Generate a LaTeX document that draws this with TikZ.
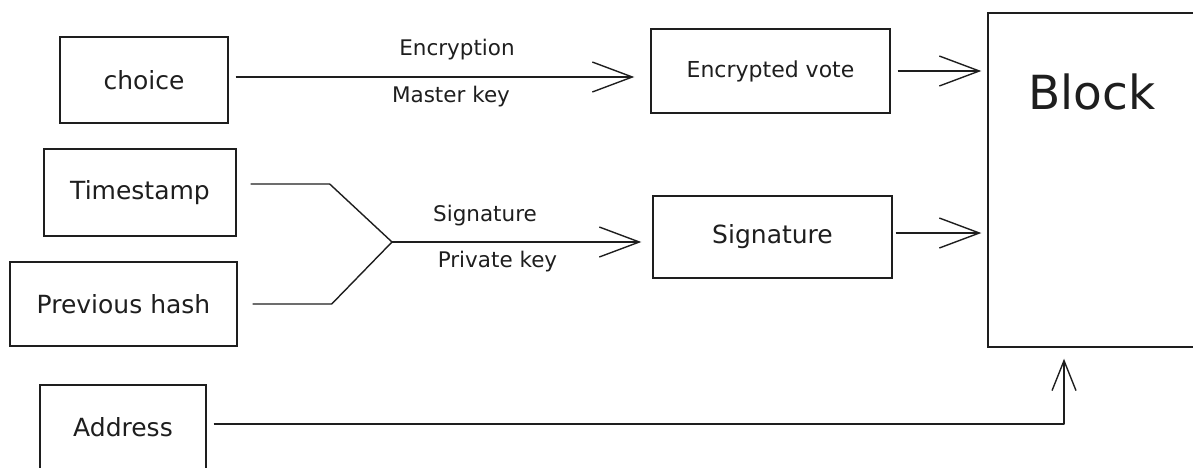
\documentclass[tikz,border=0pt]{standalone}
\usepackage{fontspec}
\setmainfont{DejaVu Sans}
\usetikzlibrary{arrows.meta,calc}
\definecolor{ink}{HTML}{1E1E1E}
\begin{document}
\begin{tikzpicture}[x=1pt,y=-1pt,
  box/.style={draw=ink, line width=1.4pt, rectangle, inner sep=0pt, text=ink, font=\fontsize{25}{30}\selectfont},
  lbl/.style={text=ink, inner sep=0pt, font=\fontsize{21.5}{26}\selectfont},
  conn/.style={draw=ink, line width=1.4pt, line join=round},
  arr/.style={conn, -{Straight Barb[length=40pt,width=30pt]}},
  arrsmall/.style={conn, -{Straight Barb[length=30pt,width=24pt]}},
]
\useasboundingbox (0,0) rectangle (1193,467);

% boxes
\node[box, minimum width=168pt, minimum height=86pt] (choice) at (144,80) {choice};
\node[box, minimum width=239pt, minimum height=84pt, font=\fontsize{22}{26}\selectfont] (encv) at (770.5,71) {Encrypted vote};
\node[box, minimum width=212pt, minimum height=334pt] (block) at (1094,180) {};
\node[text=ink, inner sep=0pt, font=\fontsize{47}{56}\selectfont] (blocklabel) at (1092,92) {Block};
\node[box, minimum width=192pt, minimum height=87pt] (ts) at (140,192.5) {Timestamp};
\node[box, minimum width=227pt, minimum height=84pt] (ph) at (123.5,304) {Previous hash};
\node[box, minimum width=239pt, minimum height=82pt] (sig) at (772.5,237) {Signature};
\node[box, minimum width=166pt, minimum height=85pt] (addr) at (123,427.5) {Address};

% labels
\node[lbl] (enc) at (457,50) {Encryption};
\node[lbl] (mk) at (451,97) {Master key};
\node[lbl] (sigl) at (485,216) {Signature};
\node[lbl] (pk) at (497.5,262) {Private key};

% connectors
\draw[arr, shorten <=7pt, shorten >=16pt] ([yshift=3pt]choice.east) -- ([yshift=3pt]choice.east -| encv.west);
\draw[arr, shorten <=7pt, shorten >=6pt] (encv.east) -- (encv.east -| block.west);
\draw[arr, shorten <=3pt, shorten >=6pt] ([yshift=4pt]sig.east) -- ([yshift=4pt]sig.east -| block.west);

\coordinate (j) at (392,242);
\draw[conn, shorten <=14pt] ([yshift=8.5pt]ts.east) -- ++(93,0) -- (j);
\draw[conn, shorten <=15pt] (ph.east) -- ++(94,0) -- (j);
\draw[arr, shorten >=11pt] (j) -- (j -| sig.west);

\coordinate (ac) at (1064,424);
\draw[arrsmall, shorten >=11pt] ([xshift=7pt,yshift=3.5pt]addr.east) -- (ac) -- (ac |- block.south);
\end{tikzpicture}
\end{document}
